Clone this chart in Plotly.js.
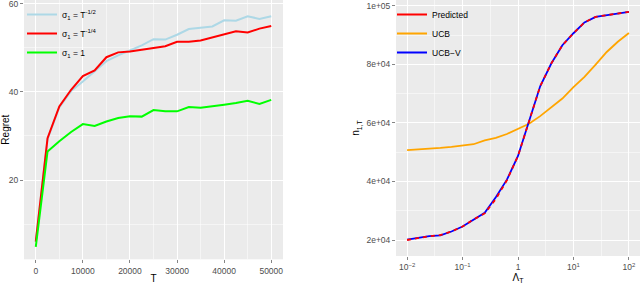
<!DOCTYPE html>
<html>
<head>
<meta charset="utf-8">
<script src="https://cdn.plot.ly/plotly-3.0.1.min.js"></script>
<style>html,body{margin:0;padding:0;background:#fff;}#chart{width:640px;height:298px;}</style>
</head>
<body>
<div id="chart"></div>
<script>
// ---- Left panel data: regret vs T ----
const horizonT = [0,2500,5000,7500,10000,12500,15000,17500,20000,22500,25000,27500,30000,32500,35000,37500,40000,42500,45000,47500,50000];
const regretHalf = [6.0,29.3,36.5,40.2,42.4,44.7,47.0,48.3,49.4,50.6,52.0,51.9,53.0,54.3,54.6,54.9,56.3,56.2,57.2,56.6,57.2];
const regretQuarter = [6.0,29.5,36.7,40.5,43.6,44.9,47.9,49.0,49.2,49.6,50.0,50.4,51.4,51.4,51.7,52.4,53.1,53.8,53.5,54.4,55.0];
const regretOne = [4.8,26.5,28.8,30.9,32.7,32.3,33.3,34.1,34.5,34.4,35.9,35.6,35.6,36.6,36.4,36.7,37.1,37.5,38.0,37.3,38.2];
const leftNames = ["σ<sub>1</sub> = T<sup>-1/2</sup>","σ<sub>1</sub> = T<sup>-1/4</sup>","σ<sub>1</sub> = 1"];
const leftXTicks = [0,10000,20000,30000,40000,50000];
const leftXTickText = ["0","10000","20000","30000","40000","50000"];
const leftYTicks = [20,40,60];

// ---- Right panel data: n_{1,T} vs Lambda_T ----
const lambdaT = [0.01,0.0158,0.0251,0.0398,0.0631,0.1,0.158,0.251,0.398,0.631,1,1.58,2.51,3.98,6.31,10,15.8,25.1,39.8,63.1,100];
const nPredicted = [20000,20700,21300,21700,22900,24600,27000,29100,34000,40400,48700,60500,72500,80250,86500,90600,94300,96200,96800,97400,97900];
const nUCB = [50670,50850,51100,51450,51800,52200,52700,54000,54900,56200,58000,59700,62300,65200,68300,72200,75700,79900,84200,87700,90700];
const nUCBV = [20100,20700,21300,21600,22900,24600,27000,29300,34600,40600,48700,60500,72500,80250,86500,90600,94300,96200,96800,97400,97900];
const rightNames = ["Predicted","UCB","UCB−V"];
const rightXTicks = [0.01,0.1,1,10,100];
const rightXTickText = ["10<sup>−2</sup>","10<sup>−1</sup>","1","10<sup>1</sup>","10<sup>2</sup>"];
const rightXMinor = [0.0316,0.316,3.16,31.6];
const rightYTicks = [20000,40000,60000,80000,100000];
const rightYTickText = ["2e+04","4e+04","6e+04","8e+04","1e+05"];

const FONT = "Liberation Sans, Arial, sans-serif";
const W = 640, H = 298;

const traces = [
  {x: horizonT, y: regretHalf, name: leftNames[0], mode: 'lines', line: {color: '#ADD8E6', width: 2}, xaxis: 'x', yaxis: 'y', legend: 'legend'},
  {x: horizonT, y: regretQuarter, name: leftNames[1], mode: 'lines', line: {color: '#FF0000', width: 2}, xaxis: 'x', yaxis: 'y', legend: 'legend'},
  {x: horizonT, y: regretOne, name: leftNames[2], mode: 'lines', line: {color: '#00FF00', width: 2}, xaxis: 'x', yaxis: 'y', legend: 'legend'},
  // right panel: drawn lines (legend keys added separately as solid entries)
  {x: lambdaT, y: nUCB, name: rightNames[1], mode: 'lines', line: {color: '#FFA500', width: 1.8}, xaxis: 'x2', yaxis: 'y2', showlegend: false},
  {x: lambdaT, y: nUCBV, name: rightNames[2], mode: 'lines', line: {color: '#0000FF', width: 1.8}, xaxis: 'x2', yaxis: 'y2', showlegend: false},
  {x: lambdaT, y: nPredicted, name: rightNames[0], mode: 'lines', line: {color: '#FF0000', width: 1.8, dash: '4px,4px'}, xaxis: 'x2', yaxis: 'y2', showlegend: false},
  // legend entries for the right panel
  {x: [null], y: [null], name: rightNames[0], mode: 'lines', line: {color: '#FF0000', width: 2}, xaxis: 'x2', yaxis: 'y2', legend: 'legend2'},
  {x: [null], y: [null], name: rightNames[1], mode: 'lines', line: {color: '#FFA500', width: 2}, xaxis: 'x2', yaxis: 'y2', legend: 'legend2'},
  {x: [null], y: [null], name: rightNames[2], mode: 'lines', line: {color: '#0000FF', width: 2}, xaxis: 'x2', yaxis: 'y2', legend: 'legend2'}
];

const axCommon = {
  showline: false, zeroline: false, showgrid: true, gridcolor: '#FFFFFF', gridwidth: 1,
  ticks: 'outside', ticklen: 3, tickwidth: 0.6, tickcolor: '#333333', ticklabeloverflow: 'allow',
  tickfont: {family: FONT, size: 8.5, color: '#4D4D4D'}, automargin: false
};
const titleFont = {family: FONT, size: 10, color: '#000000'};

const layout = {
  width: W, height: H,
  margin: {l: 0, r: 0, t: 0, b: 0},
  paper_bgcolor: '#FFFFFF', plot_bgcolor: '#EBEBEB',
  font: {family: FONT},
  showlegend: true,
  xaxis: Object.assign({}, axCommon, {
    domain: [24/W, 283/W], anchor: 'y', range: [-2500, 52500],
    tickmode: 'array', tickvals: leftXTicks, ticktext: leftXTickText,
    minor: {tickmode: 'array', tickvals: [5000,15000,25000,35000,45000], showgrid: true, gridcolor: '#FFFFFF', gridwidth: 0.5, ticks: ''},
    title: {text: 'T', font: titleFont, standoff: 0}
  }),
  yaxis: Object.assign({}, axCommon, {
    domain: [1 - 259.3/H, 1], anchor: 'x', range: [1.98, 60.9],
    tickmode: 'array', tickvals: leftYTicks,
    minor: {tickmode: 'array', tickvals: [10,30,50], showgrid: true, gridcolor: '#FFFFFF', gridwidth: 0.5, ticks: ''},
    title: {text: 'Regret', font: titleFont, standoff: 4}
  }),
  xaxis2: Object.assign({}, axCommon, {
    domain: [396/W, 1], anchor: 'y2', type: 'log', range: [-2.2, 2.2],
    tickmode: 'array', tickvals: rightXTicks, ticktext: rightXTickText,
    minor: {tickmode: 'array', tickvals: rightXMinor, showgrid: true, gridcolor: '#FFFFFF', gridwidth: 0.5, ticks: ''},
    title: {text: 'Λ<sub>T</sub>', font: titleFont, standoff: 0}
  }),
  yaxis2: Object.assign({}, axCommon, {
    domain: [1 - 256/H, 1], anchor: 'x2', range: [14540, 101950],
    tickmode: 'array', tickvals: rightYTicks, ticktext: rightYTickText,
    minor: {tickmode: 'array', tickvals: [30000,50000,70000,90000], showgrid: true, gridcolor: '#FFFFFF', gridwidth: 0.5, ticks: ''},
    title: {text: 'n<sub>1,T</sub>', font: titleFont, standoff: 4}
  }),
  legend: {x: 22/W, y: 1, xanchor: 'left', yanchor: 'top', bgcolor: 'rgba(0,0,0,0)', borderwidth: 0,
           font: {family: FONT, size: 8.5, color: '#000000'}, tracegroupgap: 0},
  legend2: {x: 392/W, y: 1, xanchor: 'left', yanchor: 'top', bgcolor: 'rgba(0,0,0,0)', borderwidth: 0,
           font: {family: FONT, size: 8.5, color: '#000000'}, tracegroupgap: 0}
};

Plotly.newPlot('chart', traces, layout, {staticPlot: true, displayModeBar: false});
</script>
</body>
</html>
